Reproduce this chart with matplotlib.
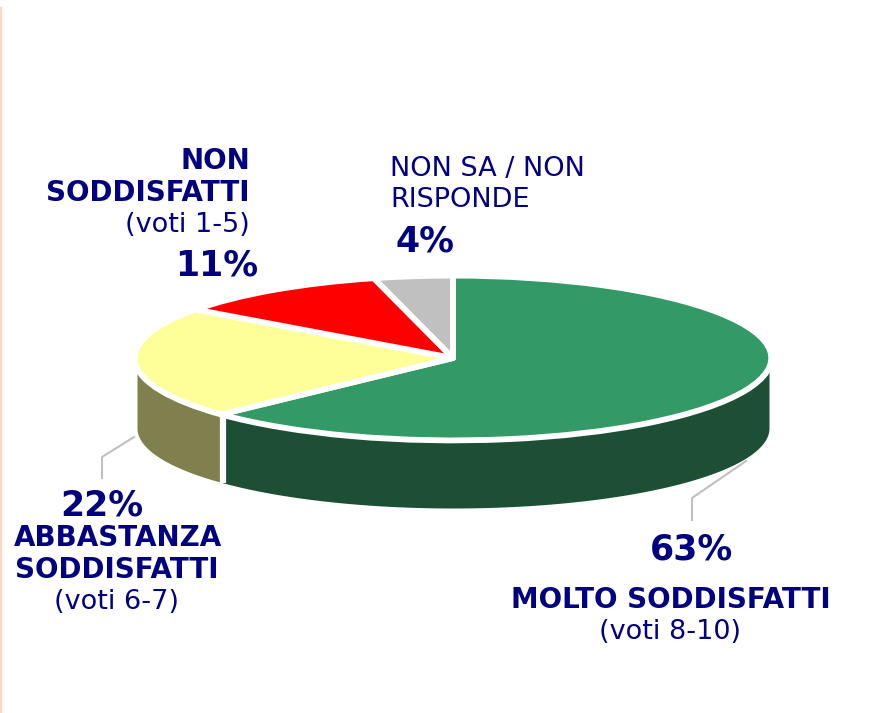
from matplotlib import pyplot as plt
from matplotlib.lines import Line2D
import numpy as np

values = [63, 22, 11, 4]
top_colors = ['#339966', '#FFFF99', '#FF0000', '#C0C0C0']
side_colors = ['#1D4F35', '#80804F', '#800000', '#606060']
navy = '#000080'

W, H = 895, 713
cx, cy, rx, ry, depth = 453, 358, 309, 80, 70
pie_r = 1.03
wall_r = 316 / rx

fig = plt.figure(figsize=(W / 100, H / 100), dpi=100)
ax = fig.add_axes([0, 0, 1, 1])

# pie is drawn round, the axis limits squash it to an ellipse
wedges, _ = ax.pie(values, colors=top_colors, startangle=90, counterclock=False, radius=pie_r,
                   wedgeprops={'edgecolor': 'white', 'linewidth': 4.2, 'joinstyle': 'round'})
ax.set_aspect('auto')
ax.set_xlim(-cx / rx, (W - cx) / rx)
ax.set_ylim((cy - H) / ry, cy / ry)
ax.axis('off')

# side walls, only the front half of the ellipse shows (180 to 360 degrees)
d = depth / ry
start = 90.0
for v, c in zip(values, side_colors):
    end = start - v / sum(values) * 360
    a0, a1 = end % 360, start % 360
    if a1 <= a0:
        a1 = a1 + 360
    a0, a1 = max(a0, 180), min(a1, 360)
    if a1 > a0:
        t = np.radians(np.linspace(a0, a1, 120))
        ax.fill_between(wall_r * np.cos(t), np.sin(t), np.sin(t) - d, color=c, lw=0, zorder=0)
    start = end

# white gap between the two visible walls
split = np.radians(90 - values[0] / sum(values) * 360)
ax.plot([wall_r * np.cos(split)] * 2, [np.sin(split), np.sin(split) - d], color='white', lw=4.5,
        zorder=0.5, solid_capstyle='butt')


def px(x, y):
    return x / W, 1 - y / H


def label(x, y, s, size, bold=False, ha='center'):
    xf, yf = px(x, y)
    fig.text(xf, yf, s, fontsize=size, color=navy, ha=ha, va='center',
             fontweight='bold' if bold else 'normal', family='DejaVu Sans')


def leader(xs, ys):
    pts = [px(a, b) for a, b in zip(xs, ys)]
    fig.add_artist(Line2D([p[0] for p in pts], [p[1] for p in pts], color='#C0C0C0', lw=1.5))


leader([134, 102, 102], [437, 457, 478])
leader([746, 692, 692], [461, 498, 520])

# thin peach stroke on the left edge
fig.add_artist(Line2D([0.001, 0.001], [1 - 8 / H, 0], color='#FFD5C0', lw=1.6))

label(250, 161, 'NON', 20, True, 'right')
label(250, 193, 'SODDISFATTI', 20, True, 'right')
label(250, 225, '(voti 1-5)', 19.5, False, 'right')
label(217, 265, '11%', 25, True)

label(390, 169, 'NON SA / NON', 19.5, False, 'left')
label(390, 200, 'RISPONDE', 19.5, False, 'left')
label(425, 241, '4%', 25, True)

label(102, 505, '22%', 25, True)
label(118, 538, 'ABBASTANZA', 20, True)
label(117, 570, 'SODDISFATTI', 20, True)
label(117, 602, '(voti 6-7)', 19.5)

label(692, 549, '63%', 25, True)
label(671, 600, 'MOLTO SODDISFATTI', 20, True)
label(670, 632, '(voti 8-10)', 19.5)

fig.savefig('out.png', dpi=100, facecolor='white')
